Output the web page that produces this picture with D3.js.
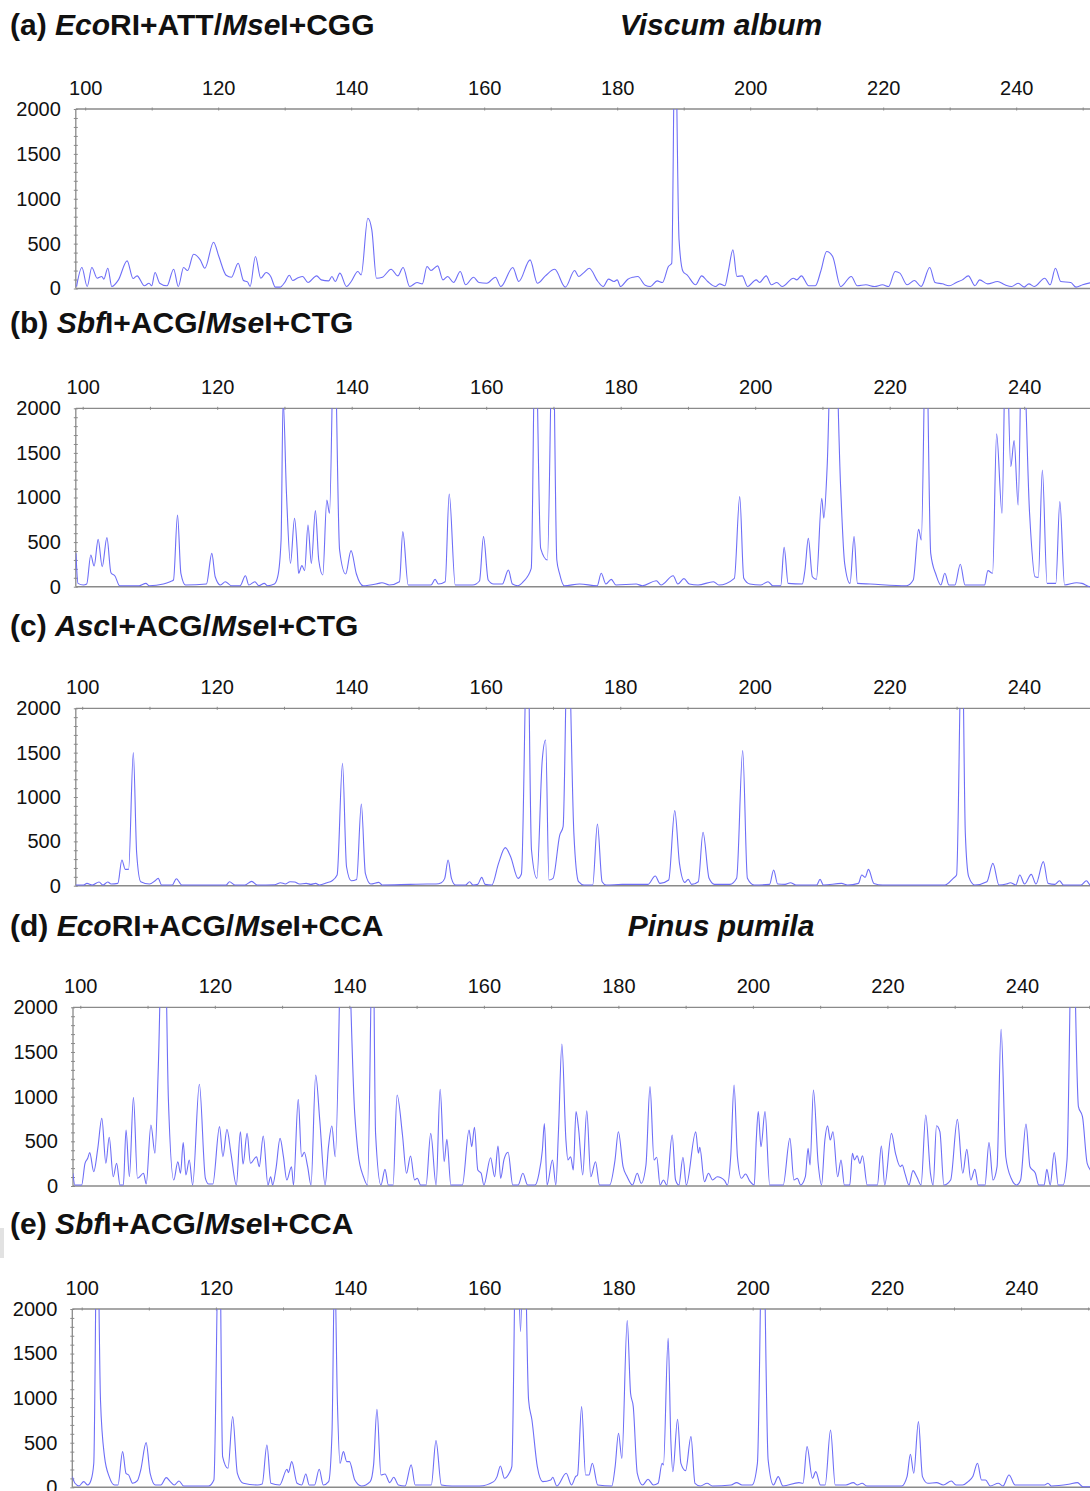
<!DOCTYPE html>
<html>
<head>
<meta charset="utf-8">
<title>AFLP fragment profiles</title>
<script src="https://d3js.org/d3.v7.min.js"></script>
<style>
  body { margin: 0; background: #fff; }
  svg text { font-family: "Liberation Sans", Arial, sans-serif; fill: #111; }
  .axis path, .axis line { stroke: #8a8a8a; }
  .trace { fill: none; stroke: #6e6ef7; stroke-width: 1.1; }
</style>
</head>
<body>
<svg id="chart" width="1090" height="1491"></svg>
<script>
// fragment size (bp) ticks and RFU ticks
const sizeTicks = d3.range(100, 260, 10);
const sizeLabels = [100, 120, 140, 160, 180, 200, 220, 240];
const rfuTicks = [0, 500, 1000, 1500, 2000];
const rfuMinor = d3.range(0, 2001, 100);

// panel titles: [text, italic?]
const titleA = [["(a) ", false], ["Eco", true], ["RI+ATT/", false], ["Mse", true], ["I+CGG", false]];
const titleB = [["(b) ", false], ["Sbf", true], ["I+ACG/", false], ["Mse", true], ["I+CTG", false]];
const titleC = [["(c) ", false], ["Asc", true], ["I+ACG/", false], ["Mse", true], ["I+CTG", false]];
const titleD = [["(d) ", false], ["Eco", true], ["RI+ACG/", false], ["Mse", true], ["I+CCA", false]];
const titleE = [["(e) ", false], ["Sbf", true], ["I+ACG/", false], ["Mse", true], ["I+CCA", false]];
const species = ["Viscum album", "Pinus pumila"];

// traces: [size bp, RFU] (values above 2000 run off the top)
const traceA = [[98.7,22],[99.5,234],[100.3,22],[101.0,234],[101.8,115],[102.5,134],[102.8,104],[103.4,226],[104.0,22],[105.0,96],
  [106.3,308],[107.2,111],[107.8,141],[108.9,30],[109.6,59],[110.0,30],[110.5,178],[111.2,59],[112.3,30],[113.3,215],[114.0,22],
  [114.8,234],[115.4,200],[116.3,382],[117.3,319],[118.0,226],[119.3,516],[120.1,356],[121.2,148],[122.0,126],[123.0,282],[123.8,89],
  [124.4,74],[124.8,22],[125.6,356],[126.4,115],[127.2,178],[127.9,134],[128.6,15],[129.3,15],[130.0,67],[130.7,148],[131.2,89],
  [132.0,119],[132.7,134],[133.5,67],[134.8,141],[135.5,96],[136.6,85],[137.1,134],[137.6,78],[138.3,171],[139.3,22],[140.0,78],
  [141.0,189],[141.5,152],[142.5,783],[143.1,653],[143.8,115],[144.7,126],[146.0,215],[147.0,141],[147.8,234],[148.8,22],[149.9,67],
  [150.7,52],[151.4,245],[152.0,200],[153.0,252],[153.8,96],[154.5,134],[155.4,67],[156.4,189],[157.2,41],[158.4,126],[159.2,67],
  [160.4,59],[161.7,126],[162.5,22],[164.3,234],[165.2,78],[166.9,319],[168.0,59],[169.2,141],[170.6,215],[172.2,15],[173.6,200],
  [174.2,134],[174.9,171],[175.8,226],[177.1,78],[177.9,22],[178.7,104],[179.5,78],[180.0,96],[180.5,22],[181.6,104],[182.4,126],
  [183.1,134],[184.2,37],[185.0,22],[186.0,85],[186.8,67],[187.7,245],[188.2,282],[188.7,3000],[189.3,542],[189.9,189],[190.5,152],
  [191.8,41],[192.7,141],[193.6,78],[194.8,22],[195.4,52],[196.2,30],[196.7,189],[197.4,430],[198.0,134],[198.8,141],[199.6,22],
  [200.9,96],[201.4,67],[202.4,141],[203.2,41],[204.0,67],[204.8,22],[206.5,115],[207.0,96],[207.7,141],[208.8,30],[209.8,30],
  [210.6,189],[211.5,412],[212.4,356],[213.6,22],[215.2,134],[216.1,30],[217.4,41],[218.7,22],[219.9,41],[220.8,22],[221.8,189],
  [222.5,171],[223.6,41],[224.7,89],[225.7,22],[227.0,234],[227.8,67],[228.9,52],[229.9,30],[231.0,67],[231.9,96],[232.8,141],
  [233.8,30],[234.5,96],[235.7,52],[237.2,78],[238.3,41],[239.3,22],[240.3,59],[241.2,15],[241.9,52],[242.7,22],[244.3,115],
  [245.1,41],[245.9,226],[246.7,78],[248.2,67],[249.0,15],[250.0,41],[251.3,67]];

const traceB = [[99.0,374],[99.3,37],[100.1,19],[100.6,30],[101.2,355],[101.7,232],[102.3,531],[102.9,224],[103.6,550],[104.2,157],
  [104.8,120],[105.5,11],[108.4,11],[109.4,37],[109.9,11],[112.0,30],[113.0,56],[113.5,75],[114.1,804],[114.6,150],[115.3,19],
  [118.4,30],[119.2,374],[119.7,112],[120.5,19],[121.2,56],[122.1,11],[123.4,11],[124.2,123],[124.7,19],[125.6,56],[126.2,11],
  [127.0,37],[127.5,11],[128.5,30],[129.0,112],[129.5,524],[129.8,2100],[130.3,1047],[130.9,262],[131.5,767],[131.9,411],[132.1,150],
  [132.6,236],[133.0,180],[133.5,692],[134.0,262],[134.6,853],[135.1,299],[135.7,131],[136.3,972],[136.7,823],[137.4,3000],
  [138.2,411],[139.1,142],[139.9,404],[140.7,142],[141.7,11],[144.0,37],[144.5,45],[145.6,19],[147.1,56],[147.6,617],[148.4,19],
  [151.8,19],[152.4,82],[152.9,30],[153.9,56],[154.5,1040],[155.4,19],[158.0,19],[159.0,64],[159.6,561],[160.3,75],[161.1,30],
  [162.4,30],[163.3,187],[163.9,30],[164.7,11],[165.5,56],[166.7,206],[167.3,3000],[168.1,430],[169.1,300],[169.9,3000],[170.5,300],
  [170.9,150],[171.6,11],[173.9,30],[176.5,11],[177.1,150],[177.8,30],[178.6,82],[179.3,19],[182.3,30],[183.2,11],[185.3,67],
  [186.0,19],[187.8,123],[188.5,30],[189.4,90],[190.2,30],[191.5,19],[193.8,56],[194.6,19],[196.9,94],[197.7,1010],[198.3,94],
  [199.2,30],[200.8,19],[201.9,56],[202.6,11],[203.8,11],[204.3,441],[204.9,37],[207.0,30],[207.4,187],[207.9,542],[208.5,112],
  [209.1,82],[209.9,991],[210.2,767],[210.7,1346],[211.6,3600],[212.7,1122],[213.3,262],[214.1,37],[214.7,561],[215.2,37],[217.1,30],
  [222.5,11],[223.5,75],[224.3,643],[224.7,524],[225.4,3000],[226.1,374],[226.9,131],[227.6,19],[228.2,150],[228.8,19],[229.7,19],
  [230.5,251],[231.2,19],[234.1,19],[234.6,180],[235.3,150],[235.9,1713],[236.7,823],[237.3,3000],[238.0,1346],[238.5,1638],
  [239.1,916],[239.7,3000],[240.8,823],[241.6,112],[242.1,105],[242.7,1309],[243.4,37],[244.7,37],[245.3,954],[246.0,19],[247.8,45],
  [248.6,37],[249.8,0],[251.5,0]];

const traceC = [[99.0,8],[100.2,8],[100.7,26],[101.5,8],[102.5,41],[103.1,8],[103.8,41],[104.3,19],[105.3,26],[105.9,290],[106.4,184],
  [106.9,184],[107.6,1500],[108.1,365],[108.7,45],[110.0,19],[110.8,53],[111.3,83],[111.8,8],[113.4,8],[114.0,79],[114.8,8],
  [121.4,8],[121.9,45],[122.7,8],[124.2,8],[125.2,49],[126.0,8],[128.6,11],[129.5,34],[130.2,19],[130.9,45],[131.6,41],[132.3,19],
  [133.3,26],[134.0,15],[134.7,26],[135.3,8],[136.4,34],[137.1,53],[137.9,120],[138.7,1380],[139.3,214],[140.0,56],[140.8,71],
  [141.5,921],[142.1,139],[142.9,19],[144.1,38],[144.6,8],[148.8,15],[151.3,19],[152.6,19],[153.4,34],[153.9,83],[154.4,290],
  [154.9,83],[155.5,8],[157.0,8],[157.6,45],[158.1,8],[158.8,15],[159.4,94],[159.9,15],[160.9,8],[161.9,252],[162.9,429],[163.7,327],
  [164.8,83],[165.3,132],[166.2,3000],[166.8,402],[167.6,83],[168.4,1418],[168.9,1643],[169.4,64],[170.0,83],[171.0,571],[171.5,665],
  [172.2,3000],[173.1,590],[173.8,45],[174.6,8],[175.9,8],[176.6,696],[177.3,45],[177.9,8],[180.3,15],[184.1,15],[185.2,109],
  [185.9,26],[187.2,64],[188.1,846],[188.8,252],[189.6,38],[190.1,71],[190.6,15],[191.6,45],[192.3,602],[193.2,83],[194.0,15],
  [196.3,15],[197.3,83],[198.2,1523],[198.9,83],[199.9,8],[202.2,15],[202.8,177],[203.4,19],[204.5,15],[205.3,34],[206.1,8],
  [209.2,8],[209.7,71],[210.2,8],[212.9,26],[213.8,8],[215.4,26],[215.9,120],[216.4,94],[216.9,184],[217.7,26],[219.0,8],[228.3,8],
  [229.5,83],[230.0,120],[230.8,3000],[231.3,590],[231.8,102],[232.7,8],[234.5,45],[235.4,252],[236.3,8],[237.4,19],[238.0,34],
  [238.8,8],[239.4,120],[240.1,19],[241.1,128],[241.8,19],[242.9,271],[243.6,26],[244.6,15],[245.3,56],[245.9,8],[248.5,8],
  [249.3,56],[249.9,8],[251.5,8]];

const traceD = [[98.9,142],[99.2,11],[100.2,11],[100.7,254],[101.1,310],[101.4,373],[102.0,160],[102.6,421],[103.2,757],[103.8,254],
  [104.3,545],[104.9,104],[105.4,254],[105.9,11],[106.4,11],[106.8,627],[107.3,104],[107.9,992],[108.5,86],[109.4,142],[109.8,22],
  [110.5,683],[111.1,366],[111.6,1335],[112.4,3600],[113.1,962],[113.9,67],[114.5,272],[114.9,142],[115.3,485],[115.7,123],
  [116.2,291],[116.7,11],[117.7,1138],[118.6,86],[119.1,22],[119.7,22],[120.7,664],[121.2,328],[121.8,634],[122.4,366],[123.2,11],
  [123.8,608],[124.2,246],[124.8,589],[125.3,254],[126.2,328],[126.6,216],[127.2,560],[127.9,11],[128.3,104],[128.6,11],[129.1,198],
  [129.7,533],[130.2,328],[130.7,67],[131.4,216],[131.7,11],[132.4,970],[132.9,328],[133.3,377],[133.8,216],[134.3,11],[135.0,1242],
  [135.6,739],[136.4,11],[136.9,440],[137.4,671],[137.9,328],[139.2,4000],[140.8,813],[141.3,366],[142.1,104],[142.7,11],
  [143.5,3000],[143.9,589],[144.7,11],[145.3,186],[145.8,11],[146.5,11],[147.1,1018],[147.9,571],[148.5,142],[149.1,336],[149.7,67],
  [150.1,86],[150.6,11],[151.4,11],[152.1,589],[152.9,11],[153.5,1082],[154.1,272],[154.5,522],[155.1,11],[156.8,11],[157.8,627],
  [158.2,440],[158.6,656],[159.1,179],[159.6,142],[160.0,11],[161.0,317],[161.6,104],[162.1,448],[162.5,86],[163.0,298],[163.6,377],
  [164.3,11],[165.1,11],[165.8,142],[166.5,11],[167.6,11],[168.2,142],[168.7,403],[169.0,700],[169.4,11],[170.2,291],[170.7,11],
  [171.1,627],[171.6,1589],[172.2,515],[172.5,291],[172.9,328],[173.3,179],[173.7,832],[174.1,627],[174.7,123],[175.3,843],
  [175.9,104],[176.6,272],[177.2,11],[178.7,11],[179.5,291],[180.0,608],[180.7,216],[181.3,104],[182.1,11],[182.8,142],[183.4,30],
  [184.1,235],[184.7,1112],[185.3,291],[185.7,321],[186.2,11],[186.7,67],[187.2,11],[188.0,571],[188.5,67],[189.0,11],[189.6,321],
  [190.1,11],[191.5,608],[191.9,366],[192.1,433],[192.8,48],[193.4,142],[194.0,67],[194.7,104],[195.8,60],[196.2,11],[196.7,328],
  [197.2,1130],[197.7,328],[198.3,86],[198.9,134],[199.6,48],[200.2,11],[200.5,515],[200.8,832],[201.2,440],[201.8,832],[202.5,11],
  [204.5,11],[205.5,533],[206.1,67],[206.6,86],[207.1,11],[207.8,104],[208.2,421],[208.5,235],[209.0,1074],[209.7,254],[210.2,11],
  [210.7,515],[211.1,675],[211.5,515],[211.9,608],[212.6,104],[213.1,291],[213.6,11],[214.4,11],[214.8,366],[215.1,291],[215.5,339],
  [215.9,254],[216.3,339],[217.0,11],[218.5,11],[219.1,448],[219.6,11],[220.6,589],[221.2,366],[221.9,216],[222.2,235],[222.6,142],
  [223.2,11],[223.8,172],[224.4,97],[225.0,11],[225.7,794],[226.4,142],[226.8,11],[227.3,675],[227.8,608],[228.4,11],[229.4,67],
  [230.4,746],[231.2,142],[231.8,410],[232.4,67],[233.0,186],[233.5,11],[234.5,11],[235.1,485],[235.7,67],[236.3,216],[236.9,1753],
  [237.6,328],[238.4,86],[239.2,11],[239.8,67],[240.6,694],[241.2,216],[242.0,142],[242.5,11],[243.3,11],[243.7,186],[244.2,11],
  [244.8,373],[245.4,11],[246.1,11],[246.7,291],[247.5,3200],[248.4,888],[249.0,776],[249.7,254],[250.5,150]];

const traceE = [[98.6,120],[99.0,45],[99.6,15],[100.3,64],[100.9,26],[101.4,82],[101.8,269],[102.3,3200],[102.8,980],[103.4,344],
  [104.1,120],[104.9,26],[105.4,26],[106.1,400],[106.6,157],[107.0,138],[107.6,45],[108.3,75],[108.8,194],[109.6,501],[110.2,157],
  [111.0,26],[111.8,26],[112.6,108],[113.2,64],[113.8,26],[114.5,71],[115.2,15],[118.9,15],[119.7,82],[120.5,3200],[121.0,344],
  [121.8,213],[122.5,793],[123.2,157],[124.1,45],[126.2,26],[126.9,37],[127.6,475],[128.2,45],[129.5,26],[130.6,202],[130.8,165],
  [131.3,288],[132.1,45],[132.8,26],[133.4,150],[133.9,26],[134.7,26],[135.4,202],[136.0,26],[136.8,64],[137.3,606],[137.7,2500],
  [138.1,980],[138.5,269],[139.0,400],[139.5,288],[139.9,288],[140.7,82],[141.7,15],[143.0,64],[143.5,251],[144.0,875],[144.6,138],
  [145.2,150],[145.9,52],[146.5,112],[147.2,26],[148.2,15],[149.1,251],[149.7,26],[152.1,26],[152.8,524],[153.6,26],[155.2,15],
  [159.3,15],[161.4,64],[161.9,120],[162.4,239],[163.0,101],[163.7,157],[164.1,232],[164.8,3200],[165.4,1747],[165.9,3200],
  [166.6,980],[167.1,755],[167.9,232],[168.7,64],[169.9,82],[170.2,112],[170.8,15],[172.2,157],[173.0,26],[173.6,120],[173.9,138],
  [174.5,905],[175.1,138],[175.6,138],[176.1,269],[176.9,26],[179.0,15],[179.5,232],[180.0,606],[180.5,325],[181.3,1870],
  [181.8,1055],[182.2,905],[182.8,157],[183.6,26],[184.4,90],[185.2,26],[185.9,45],[186.5,269],[186.7,251],[187.4,1672],[187.8,531],
  [188.1,176],[188.8,763],[189.3,269],[190.0,187],[190.8,568],[191.4,45],[192.2,15],[193.2,45],[194.0,15],[196.8,26],[197.6,52],
  [198.4,26],[199.9,26],[200.7,269],[201.5,3200],[202.3,307],[203.1,26],[203.8,120],[204.5,15],[206.9,52],[207.5,45],[208.1,456],
  [208.9,101],[209.4,176],[210.1,26],[210.8,26],[211.6,643],[212.3,26],[213.9,26],[215.0,52],[215.6,26],[216.3,45],[217.0,15],
  [222.2,15],[223.0,120],[223.5,370],[224.0,157],[224.7,737],[225.3,120],[226.1,45],[227.4,52],[228.4,26],[229.6,71],[230.3,26],
  [231.3,26],[232.1,64],[232.8,120],[233.5,269],[234.1,82],[234.7,82],[235.4,15],[236.6,45],[237.3,15],[238.2,138],[239.1,26],
  [243.5,26],[244.0,45],[244.5,15],[247.1,34],[248.4,52],[249.2,7],[250.6,7],[252.0,7]];

// page layout of each panel (pixels)
const layout = [
  { trace: traceA, title: titleA, species: species[0], titleY: 35, top: 109, bottom: 288.5, left: 75.8, x100: 85.2, bp: 6.65 },
  { trace: traceB, title: titleB, species: null, titleY: 333, top: 408.3, bottom: 586.7, left: 75.8, x100: 82.7, bp: 6.725 },
  { trace: traceC, title: titleC, species: null, titleY: 636, top: 708.3, bottom: 885.7, left: 75.8, x100: 82.2, bp: 6.726 },
  { trace: traceD, title: titleD, species: species[1], titleY: 936, top: 1007.3, bottom: 1186, left: 73, x100: 80.3, bp: 6.726 },
  { trace: traceE, title: titleE, species: null, titleY: 1234, top: 1309, bottom: 1487.3, left: 72.3, x100: 81.7, bp: 6.71 }
];

const W = 1090;
const svg = d3.select("#chart");

// little grey mark at the left edge next to panel (e)
svg.append("rect").attr("x", 0).attr("y", 1228).attr("width", 4).attr("height", 30).attr("fill", "#e2e2e2");

layout.forEach((p, i) => {
  const x = d3.scaleLinear().domain([100, 250]).range([p.x100, p.x100 + 150 * p.bp]);
  const y = d3.scaleLinear().domain([0, 2000]).range([p.bottom, p.top]);

  // title with italic enzyme names
  const t = svg.append("text")
    .attr("x", 10).attr("y", p.titleY)
    .style("font-size", "30px").style("font-weight", "bold");
  p.title.forEach(([s, it]) => {
    t.append("tspan").text(s).style("font-style", it ? "italic" : "normal");
  });

  if (p.species) {
    svg.append("text")
      .attr("x", 721).attr("y", p.titleY)
      .attr("text-anchor", "middle")
      .style("font-size", "30px").style("font-weight", "bold").style("font-style", "italic")
      .text(p.species);
  }

  const g = svg.append("g");

  // clip so overloaded peaks stop at the frame
  const clipId = "clip" + i;
  g.append("clipPath").attr("id", clipId)
    .append("rect")
    .attr("x", p.left).attr("y", p.top)
    .attr("width", W - p.left).attr("height", p.bottom - p.top + 2);

  // top size axis, small ticks crossing the frame line
  const xAxis = g.append("g")
    .attr("class", "axis")
    .attr("transform", `translate(0,${p.top})`)
    .call(d3.axisTop(x)
      .tickValues(sizeTicks)
      .tickSizeInner(-2).tickSizeOuter(0).tickPadding(14.5)
      .tickFormat(d => sizeLabels.includes(d) ? d : ""));
  xAxis.select(".domain").remove();
  xAxis.selectAll(".tick line").attr("y1", -1.5).attr("y2", 1.5);
  xAxis.selectAll("text").style("font-size", "20px").attr("fill", "#111");
  g.append("line")
    .attr("x1", p.left).attr("x2", W)
    .attr("y1", p.top).attr("y2", p.top)
    .attr("stroke", "#8a8a8a").attr("stroke-width", 1.3);

  // left RFU axis: minor ticks every 100 and labels every 500
  const yMinor = g.append("g")
    .attr("class", "axis")
    .attr("transform", `translate(${p.left},0)`)
    .call(d3.axisLeft(y).tickValues(rfuMinor).tickSize(2).tickFormat(""));
  yMinor.select(".domain").remove();
  yMinor.selectAll(".tick line").attr("x1", -2).attr("x2", 2);

  const yAxis = g.append("g")
    .attr("class", "axis")
    .attr("transform", `translate(${p.left},0)`)
    .call(d3.axisLeft(y).tickValues(rfuTicks).tickSize(0).tickPadding(15).tickFormat(d3.format("d")));
  yAxis.select(".domain").remove();
  yAxis.selectAll("text").style("font-size", "20px").attr("fill", "#111");

  g.append("line")
    .attr("x1", p.left).attr("x2", p.left)
    .attr("y1", p.top).attr("y2", p.bottom)
    .attr("stroke", "#8a8a8a").attr("stroke-width", 1.3);

  // baseline
  g.append("line")
    .attr("x1", p.left).attr("x2", W)
    .attr("y1", p.bottom).attr("y2", p.bottom)
    .attr("stroke", "#8a8a8a").attr("stroke-width", 1.5);

  const line = d3.line()
    .x(d => x(d[0]))
    .y(d => y(d[1]))
    .curve(d3.curveMonotoneX);

  g.append("path")
    .datum(d3.sort(p.trace, d => d[0]))
    .attr("class", "trace")
    .attr("clip-path", `url(#${clipId})`)
    .attr("d", line);
});
</script>
</body>
</html>
